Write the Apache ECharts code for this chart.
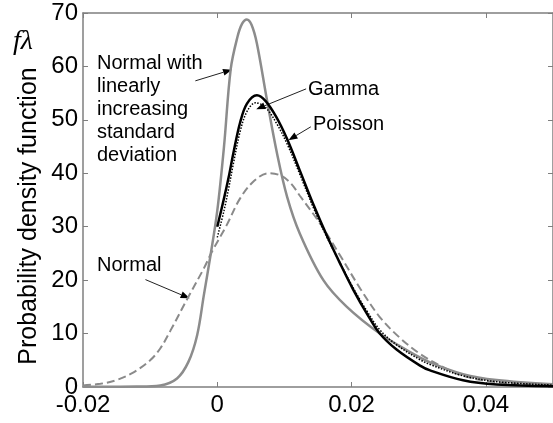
<!DOCTYPE html>
<html>
<head>
<meta charset="utf-8">
<script src="https://cdn.jsdelivr.net/npm/echarts@6/dist/echarts.min.js"></script>
<style>
  html, body { margin: 0; padding: 0; background: #fff; }
  #chart { width: 553px; height: 423px; }
</style>
</head>
<body>
<div id="chart"></div>
<script>
// x tick labels / y ticks
var xTicks = [-0.02, 0, 0.02, 0.04]
var yTicks = [0, 10, 20, 30, 40, 50, 60, 70]

// Normal with linearly increasing standard deviation (grey solid)
var nliX = [-0.02, -0.012, -0.0085, -0.006, -0.0043, -0.003, -0.002, -0.001, 0, 0.001, 0.002, 0.003, 0.0037, 0.0044, 0.0051, 0.0059, 0.0074, 0.0089, 0.0104, 0.0123, 0.0158, 0.0193, 0.0242, 0.0282, 0.0317, 0.0366, 0.0416, 0.05]
var nliY = [0.05, 0.1, 0.3, 1.6, 4.7, 9.7, 17.2, 24.7, 33, 45, 59.5, 65.5, 68, 68.8, 67.8, 64.3, 53.7, 43.7, 35.6, 28.7, 20, 15, 10, 6.9, 4.6, 2.4, 1.3, 0.5]

// Poisson (black solid)
var poiX = [0, 0.001, 0.0017, 0.0024, 0.0034, 0.0044, 0.0059, 0.0072, 0.0088, 0.0104, 0.0123, 0.0143, 0.0163, 0.0183, 0.0203, 0.0223, 0.0242, 0.0267, 0.0302, 0.0317, 0.0366, 0.0416, 0.05]
var poiY = [30, 35.3, 39.3, 43.8, 49.5, 53, 54.6, 53.5, 50.5, 46.4, 40.5, 34.2, 28.4, 23.1, 18.1, 13.7, 10.0, 7.0, 4.0, 3.1, 1.25, 0.45, 0.15]

// Gamma (black dotted)
var gamX = [0, 0.001, 0.0017, 0.0024, 0.0034, 0.0044, 0.0057, 0.0072, 0.0088, 0.0104, 0.0123, 0.0143, 0.0163, 0.0183, 0.0203, 0.0223, 0.0242, 0.0267, 0.0302, 0.0317, 0.0366, 0.0416, 0.05]
var gamY = [28, 33, 37.2, 41.8, 47.8, 51.5, 53.2, 52.3, 49.4, 45.5, 39.8, 33.6, 28.1, 23.2, 18.4, 14.2, 10.7, 7.9, 5.1, 4.2, 2.1, 1.0, 0.35]

// Normal (grey dashed)
var norX = [-0.02, -0.0174, -0.015, -0.0124, -0.01, -0.0085, -0.007, -0.0043, -0.002, -0.0008, 0.0014, 0.0034, 0.0055, 0.0076, 0.0094, 0.0109, 0.0123, 0.0153, 0.0183, 0.0213, 0.0242, 0.0272, 0.0302, 0.0335, 0.0366, 0.0416, 0.05]
var norY = [0.3, 0.6, 1.3, 2.8, 5.0, 7.2, 10.5, 16.9, 22.2, 25.3, 30.3, 35.3, 38.6, 40, 39.6, 38.2, 35.8, 30.6, 24.6, 18.4, 13.1, 9.2, 6.2, 3.8, 2.1, 0.9, 0.25]

// arrows: [tail x, tail y, tip x, tip y] in data units
var arrows = [
  [-0.00327, 57.3, 0.00219, 59.4],
  [0.01323, 55.8, 0.0058, 52.0],
  [0.01393, 48.7, 0.0106, 46.2],
  [-0.0107, 20.1, -0.00412, 16.6]
]

function pairs(xs, ys) {
  return xs.map(function (x, i) { return [x, ys[i]] })
}

var font = '"Liberation Sans", Arial, sans-serif'
var axisGrey = '#7f7f7f'

var myChart = echarts.init(document.getElementById('chart'))
var option = {
  animation: false,
  backgroundColor: '#fff',
  grid: { left: 83, top: 13, width: 471, bottom: 36 },
  xAxis: [
    {
      type: 'value',
      min: -0.02,
      max: 0.05,
      interval: 0.02,
      axisLine: { onZero: false, lineStyle: { color: axisGrey, width: 1.5 } },
      axisTick: { inside: true, length: 5, lineStyle: { color: axisGrey } },
      splitLine: { show: false },
      axisLabel: {
        showMaxLabel: false,
        margin: 6,
        color: '#000',
        fontSize: 24,
        fontFamily: font,
        formatter: function (v) {
          return v === 0 ? '0' : v.toFixed(2)
        },
      },
    },
    {
      type: 'value',
      position: 'top',
      min: -0.02,
      max: 0.05,
      interval: 0.02,
      axisLine: { onZero: false, lineStyle: { color: axisGrey, width: 1.5 } },
      axisTick: { inside: true, length: 5, lineStyle: { color: axisGrey } },
      axisLabel: { show: false },
      splitLine: { show: false },
    },
  ],
  yAxis: [
    {
      type: 'value',
      min: 0,
      max: 70,
      interval: 10,
      axisLine: { show: true, onZero: false, lineStyle: { color: axisGrey, width: 1.5 } },
      axisTick: { show: true, inside: true, length: 5, lineStyle: { color: axisGrey } },
      splitLine: { show: false },
      axisLabel: { margin: 5, color: '#000', fontSize: 24, fontFamily: font },
    },
    {
      type: 'value',
      position: 'right',
      min: 0,
      max: 70,
      interval: 10,
      axisLine: { show: true, onZero: false, lineStyle: { color: axisGrey, width: 1.5 } },
      axisTick: { show: true, inside: true, length: 5, lineStyle: { color: axisGrey } },
      axisLabel: { show: false },
      splitLine: { show: false },
    },
  ],
  series: [
    {
      name: 'Normal',
      type: 'line',
      data: pairs(norX, norY),
      smooth: 0.35,
      showSymbol: false,
      lineStyle: { color: '#8a8a8a', width: 2, type: [8, 4] },
    },
    {
      name: 'Normal with linearly increasing standard deviation',
      type: 'line',
      data: pairs(nliX, nliY),
      smooth: 0.35,
      showSymbol: false,
      lineStyle: { color: '#8c8c8c', width: 2.5 },
    },
    {
      name: 'Poisson',
      type: 'line',
      data: pairs(poiX, poiY),
      smooth: 0.35,
      showSymbol: false,
      lineStyle: { color: '#000', width: 2.5 },
    },
    {
      name: 'Gamma',
      type: 'line',
      data: pairs(gamX, gamY),
      smooth: 0.35,
      showSymbol: false,
      lineStyle: { color: '#000', width: 1.5, type: [1.5, 1.5] },
    },
  ],
}
myChart.setOption(option)

// annotations: arrows located by data coords, texts at fixed spots
var graphic = []
arrows.forEach(function (a) {
  var p0 = myChart.convertToPixel({ gridIndex: 0 }, [a[0], a[1]])
  var p1 = myChart.convertToPixel({ gridIndex: 0 }, [a[2], a[3]])
  var ang = Math.atan2(p1[1] - p0[1], p1[0] - p0[0])
  var len = 9, half = 3.5
  var bx = p1[0] - len * Math.cos(ang), by = p1[1] - len * Math.sin(ang)
  graphic.push({
    type: 'line',
    shape: { x1: p0[0], y1: p0[1], x2: bx, y2: by },
    style: { stroke: '#222', lineWidth: 1 },
  })
  graphic.push({
    type: 'polygon',
    shape: {
      points: [
        [p1[0], p1[1]],
        [bx + half * Math.sin(ang), by - half * Math.cos(ang)],
        [bx - half * Math.sin(ang), by + half * Math.cos(ang)],
      ],
    },
    style: { fill: '#000' },
  })
})

function label(txt, x, y) {
  return {
    type: 'text',
    left: x,
    top: y,
    style: { text: txt, fill: '#000', font: '20px ' + font, lineHeight: 23 },
  }
}
graphic.push(label('Normal with\nlinearly\nincreasing\nstandard\ndeviation', 97, 52))
graphic.push(label('Gamma', 308, 78))
graphic.push(label('Poisson', 313, 113))
graphic.push(label('Normal', 97, 254))
graphic.push({
  type: 'text',
  left: 13,
  top: 28,
  style: { text: 'fλ', fill: '#000', font: 'italic 28px "Liberation Serif", "DejaVu Serif", serif' },
})
// y axis title, sits a bit below the axis middle as in the source figure
graphic.push({
  type: 'text',
  x: 29,
  y: 216,
  rotation: Math.PI / 2,
  style: {
    text: 'Probability density function',
    fill: '#000',
    font: '25px ' + font,
    align: 'center',
    verticalAlign: 'middle',
  },
})

myChart.setOption({ graphic: graphic })
</script>
</body>
</html>
